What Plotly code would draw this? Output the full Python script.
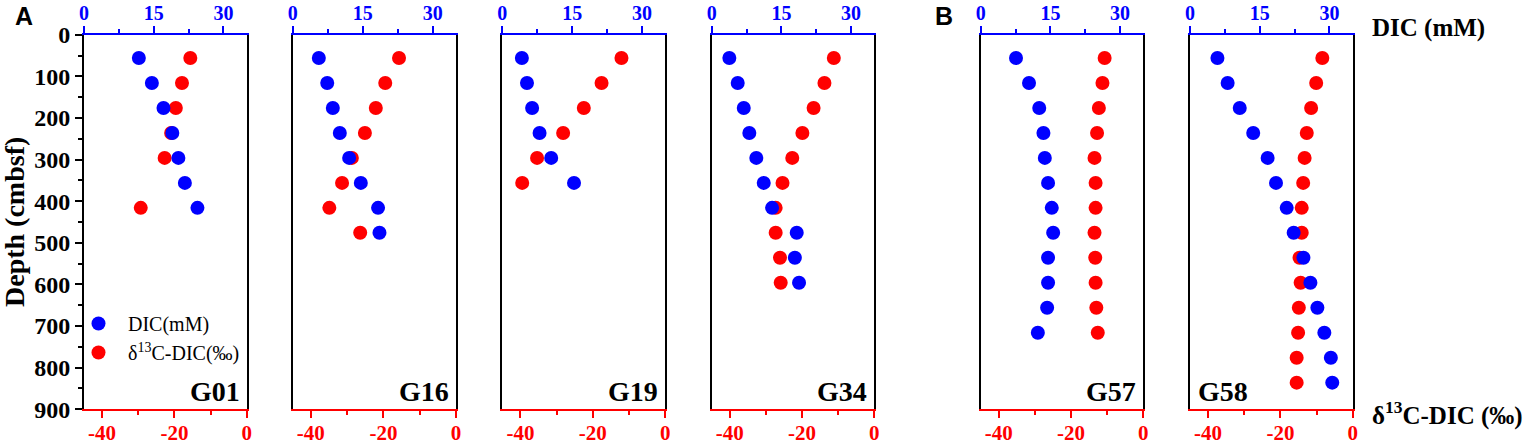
import plotly.graph_objects as go

W, H = 1535, 445

stations = ["G01", "G16", "G19", "G34", "G57", "G58"]

depth_G01 = [56, 116, 176, 236, 296, 356, 416]
dic_G01 = [11.8, 14.6, 17.1, 19.0, 20.3, 21.7, 24.4]
d13c_G01 = [-15.6, -17.9, -19.6, -20.9, -22.7, None, -29.3]

depth_G16 = [56, 116, 176, 236, 296, 356, 416, 476]
dic_G16 = [5.6, 7.4, 8.6, 10.1, 12.1, 14.6, 18.3, 18.6]
d13c_G16 = [-15.7, -19.5, -22.1, -25.1, -28.7, -31.4, -34.9, -26.4]

depth_G19 = [56, 116, 176, 236, 296, 356]
dic_G19 = [4.2, 5.3, 6.4, 8.0, 10.5, 15.4]
d13c_G19 = [-12.1, -17.6, -22.5, -28.2, -35.4, -39.5]

depth_G34 = [56, 116, 176, 236, 296, 356, 416, 476, 536, 596]
dic_G34 = [3.8, 5.6, 6.9, 8.1, 9.6, 11.2, 13.0, 18.3, 17.9, 18.8]
d13c_G34 = [-11.2, -13.8, -16.8, -19.9, -22.7, -25.4, -27.3, -27.3, -26.1, -25.9]

depth_G57 = [56, 116, 176, 236, 296, 356, 416, 476, 536, 596, 656, 716]
dic_G57 = [7.6, 10.4, 12.6, 13.5, 13.8, 14.5, 15.3, 15.6, 14.5, 14.5, 14.3, 12.3]
d13c_G57 = [-10.7, -11.3, -12.3, -12.8, -13.5, -13.2, -13.2, -13.5, -13.3, -13.2, -13.0, -12.6]

depth_G58 = [56, 116, 176, 236, 296, 356, 416, 476, 536, 596, 656, 716, 776, 836]
dic_G58 = [5.9, 8.1, 10.7, 13.6, 16.7, 18.5, 20.8, 22.3, 24.4, 25.9, 27.4, 28.9, 30.3, 30.6]
d13c_G58 = [-8.4, -10.1, -11.5, -12.7, -13.3, -13.7, -14.1, -14.1, -14.7, -14.4, -14.9, -15.1, -15.5, -15.5]

depths = [depth_G01, depth_G16, depth_G19, depth_G34, depth_G57, depth_G58]
dics = [dic_G01, dic_G16, dic_G19, dic_G34, dic_G57, dic_G58]
d13cs = [d13c_G01, d13c_G16, d13c_G19, d13c_G34, d13c_G57, d13c_G58]

dic_ticks = [0, 15, 30]
dic_minor = [7.5, 22.5]
d13c_ticks = [-40, -20, 0]
d13c_ticklabels = ["-40", "-20", "0"]
d13c_minor = [-30, -10]
depth_ticks = list(range(0, 901, 100))
depth_minor = list(range(50, 900, 100))

SERIF = "Liberation Serif"
SANS = "Liberation Sans"

# panel pixel extents (left, right)
panels_px = [(84, 246.7), (292.7, 456), (502.3, 665.3), (711.7, 874.3), (980.7, 1143.3), (1190, 1352.7)]
top_px, bot_px = 34.7, 409.3
ydom = [1 - bot_px / H, 1 - top_px / H]

fig = go.Figure()
layout = dict(
    width=W, height=H,
    margin=dict(l=0, r=0, t=0, b=0),
    paper_bgcolor="white", plot_bgcolor="white",
    showlegend=True,
    legend=dict(x=69 / W, y=1 - 304 / H, xanchor="left", yanchor="top",
                bgcolor="rgba(0,0,0,0)", font=dict(family=SERIF, size=20, color="black"),
                tracegroupgap=0, itemwidth=49),
)

for i, st in enumerate(stations):
    n = i + 1
    xb, xt = 2 * n - 1, 2 * n
    l, r = panels_px[i]
    fig.add_trace(go.Scatter(
        x=dics[i], y=depths[i], mode="markers", name="DIC(mM)",
        marker=dict(color="#0000FF", size=14, line=dict(width=0)),
        xaxis=f"x{xt}", yaxis=f"y{n}", showlegend=(n == 1), legendgroup="a"))
    fig.add_trace(go.Scatter(
        x=d13cs[i], y=depths[i], mode="markers", name="δ<sup>13</sup>C-DIC(‰)",
        marker=dict(color="#FF0000", size=14, line=dict(width=0)),
        xaxis=f"x{xb}", yaxis=f"y{n}", showlegend=(n == 1), legendgroup="b"))

    layout[f"xaxis{xb}"] = dict(
        domain=[l / W, r / W], anchor=f"y{n}", side="bottom", range=[-45, 0],
        showline=True, linecolor="#FF0000", linewidth=2,
        ticks="outside", ticklen=7, tickwidth=2, tickcolor="#FF0000",
        tickvals=d13c_ticks, ticktext=d13c_ticklabels, ticklabelstandoff=-4,
        minor=dict(tickvals=d13c_minor, ticks="outside", ticklen=4, tickwidth=2, tickcolor="#FF0000"),
        tickfont=dict(family=SERIF, size=21, color="#FF0000", weight="bold"),
        showgrid=False, zeroline=False, automargin=False, fixedrange=True)
    layout[f"xaxis{xt}"] = dict(
        overlaying=f"x{xb}", anchor=f"y{n}", side="top", range=[0, 35],
        showline=True, linecolor="#0000FF", linewidth=2,
        ticks="outside", ticklen=7, tickwidth=2, tickcolor="#0000FF",
        tickvals=dic_ticks, ticklabelstandoff=-2,
        minor=dict(tickvals=dic_minor, ticks="outside", ticklen=4, tickwidth=2, tickcolor="#0000FF"),
        tickfont=dict(family=SERIF, size=20, color="#0000FF", weight="bold"),
        showgrid=False, zeroline=False, automargin=False, fixedrange=True)
    ya = dict(
        domain=ydom, anchor=f"x{xb}", range=[900, 0],
        showline=True, mirror=True, linecolor="black", linewidth=2,
        showgrid=False, zeroline=False, automargin=False, fixedrange=True)
    if n == 1:
        ya.update(ticks="outside", ticklen=7, tickwidth=2, tickcolor="black",
                  tickvals=depth_ticks,
                  minor=dict(tickvals=depth_minor, ticks="outside", ticklen=4, tickwidth=2, tickcolor="black"),
                  tickfont=dict(family=SERIF, size=24, color="black", weight="bold"))
    else:
        ya.update(ticks="", showticklabels=False)
    layout[f"yaxis{n}"] = ya

annotations = []
for i, st in enumerate(stations):
    l, r = panels_px[i]
    if st == "G58":
        annotations.append(dict(x=(l + 6) / W, xanchor="left", y=1 - 391 / H, yanchor="middle",
                                xref="paper", yref="paper", text=st, showarrow=False,
                                font=dict(family=SERIF, size=28, color="black", weight="bold")))
    else:
        annotations.append(dict(x=(r - 5) / W, xanchor="right", y=1 - 391 / H, yanchor="middle",
                                xref="paper", yref="paper", text=st, showarrow=False,
                                font=dict(family=SERIF, size=28, color="black", weight="bold")))

annotations += [
    dict(x=24 / W, y=1 - 16 / H, xref="paper", yref="paper", text="A", showarrow=False,
         xanchor="center", yanchor="middle", font=dict(family=SANS, size=25, color="black", weight="bold")),
    dict(x=944 / W, y=1 - 16 / H, xref="paper", yref="paper", text="B", showarrow=False,
         xanchor="center", yanchor="middle", font=dict(family=SANS, size=25, color="black", weight="bold")),
    dict(x=1370 / W, y=1 - 28 / H, xref="paper", yref="paper", text="DIC (mM)", showarrow=False,
         xanchor="left", yanchor="middle", font=dict(family=SERIF, size=25, color="black", weight="bold")),
    dict(x=1370 / W, y=1 - 413 / H, xref="paper", yref="paper", text="δ<sup>13</sup>C-DIC (‰)", showarrow=False,
         xanchor="left", yanchor="middle", font=dict(family=SERIF, size=25, color="black", weight="bold")),
    dict(x=14 / W, y=1 - 222 / H, xref="paper", yref="paper", text="Depth (cmbsf)", showarrow=False,
         textangle=-90, xanchor="center", yanchor="middle",
         font=dict(family=SERIF, size=28, color="black", weight="bold")),
]
layout["annotations"] = annotations

fig.update_layout(**layout)
fig.write_html("out.html", config={"displayModeBar": False, "staticPlot": True},
               post_script="document.body.style.margin='0px';document.body.style.overflow='hidden';")
